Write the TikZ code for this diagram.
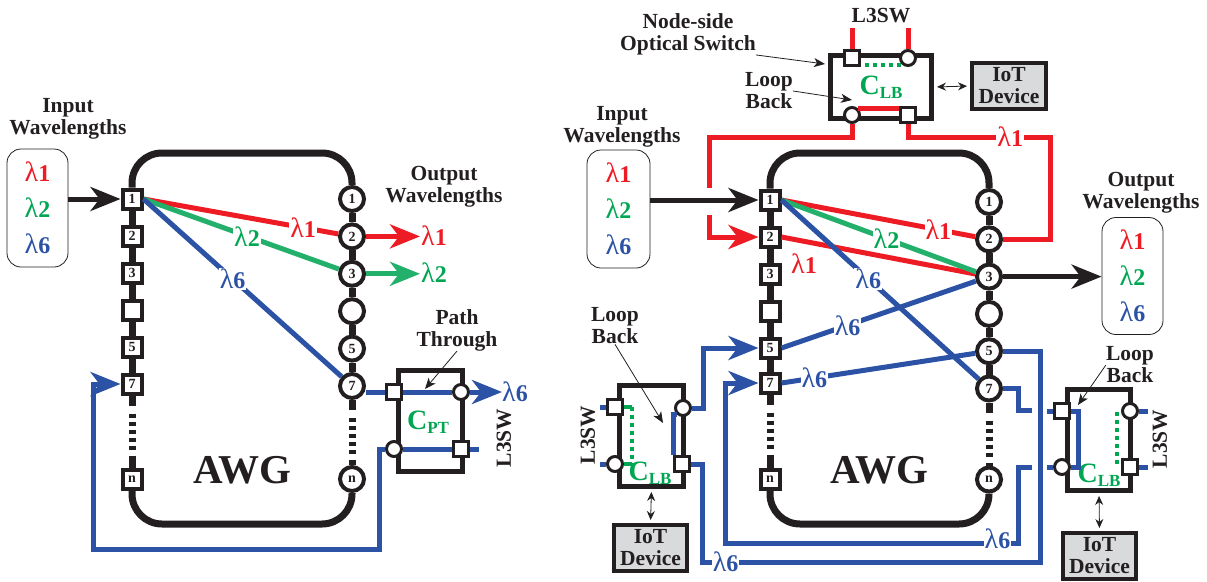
\documentclass[tikz,border=0pt]{standalone}
\usepackage{fontspec}
\setmainfont{Liberation Serif}
\usepackage{xcolor}
\usetikzlibrary{arrows.meta,positioning}

\definecolor{ink}{HTML}{231F20}
\definecolor{wlred}{HTML}{ED1C24}
\definecolor{wlgreen}{HTML}{00A651}
\definecolor{wireg}{HTML}{22B06A}
\definecolor{wlblue}{HTML}{2B52A4}
\definecolor{iotgray}{HTML}{D9DADB}

\newcommand{\wlen}[1]{{\fontsize{28}{28}\selectfont λ}\textbf{#1}}
\newcommand{\cname}[1]{C\raisebox{-4pt}{\fontsize{17}{17}\selectfont #1}}

\begin{document}
\begin{tikzpicture}[
    x=1pt, y=-1pt,
    node distance=14pt,
    inport/.style={draw=ink, fill=white, line width=4pt, minimum size=19pt, inner sep=0pt, text=ink, font=\fontsize{14}{14}\selectfont\bfseries},
    outport/.style={inport, circle, minimum size=24pt},
    swsq/.style={draw=ink, fill=white, line width=3pt, minimum size=15pt, inner sep=0pt},
    swci/.style={swsq, circle},
    swbox/.style={draw=ink, line width=5pt, minimum width=64pt, minimum height=101pt, inner sep=0pt},
    awg/.style={draw=ink, line width=7pt},
    awgdots/.style={awg, dash pattern=on 10pt off 8pt on 4pt off 4pt on 4pt off 4pt on 4pt off 4pt on 4pt off 4pt on 4pt off 6pt on 30pt off 30pt},
    iot/.style={draw=ink, fill=iotgray, line width=4pt, minimum width=73pt, minimum height=46pt, inner sep=0pt, align=center, text=ink, font=\fontsize{21.5}{22}\selectfont\bfseries},
    txt/.style={align=center, inner sep=0pt, text=ink, font=\fontsize{21.5}{22}\selectfont\bfseries},
    wlbox/.style={draw=ink, line width=.8pt, rounded corners=14pt, minimum width=61pt, inner sep=0pt, align=center, font=\fontsize{24}{36}\selectfont},
    lam/.style={fill=white, inner sep=1pt, font=\fontsize{24}{24}\selectfont},
    big/.style={inner sep=0pt, text=wlgreen, font=\fontsize{28}{28}\selectfont\bfseries},
    redw/.style={draw=wlred, line width=5pt},
    greenw/.style={draw=wireg, line width=5pt},
    bluew/.style={draw=wlblue, line width=5pt},
    greend/.style={draw=wlgreen, line width=4pt, dash pattern=on 4pt off 4pt},
    arrow/.style={-{Stealth[length=30pt,width=24pt,inset=9pt]}},
    note/.style={-{Stealth[length=11pt,width=9pt,inset=3pt]}, draw=ink, line width=.8pt},
    both/.style={{Stealth[length=9pt,width=8pt,inset=3pt]}-{Stealth[length=9pt,width=8pt,inset=3pt]}, draw=ink, line width=.8pt, shorten <=3pt, shorten >=3pt}
]
\useasboundingbox (0,0) rectangle (1207,581);

% left AWG
\coordinate (top) at (0,153);
\coordinate (bot) at (0,524);
\node[inport] (inA1) at (132,199) {1};
\node[inport, below=of inA1] (inA2) {2};
\node[inport, below=of inA2] (inA3) {3};
\node[inport, below=of inA3] (inA4) {};
\node[inport, below=of inA4] (inA5) {5};
\node[inport, below=of inA5] (inA7) {7};
\node[inport, below=72pt of inA7] (inAn) {n};
\node[outport] (outA1) at (352,199) {1};
\node[outport, below=9.4pt of outA1] (outA2) {2};
\node[outport, below=9.4pt of outA2] (outA3) {3};
\node[outport, below=9.4pt of outA3] (outA4) {};
\node[outport, below=9.4pt of outA4] (outA5) {5};
\node[outport, below=9.4pt of outA5] (outA7) {7};
\node[outport, below=65pt of outA7] (outAn) {n};
\draw[awg, rounded corners=30pt] (inA1.north) |- (top -| outA1) -- (outA1.north);
\draw[awg, rounded corners=30pt] (inAn.south) |- (bot -| outAn) -- (outAn.south);
\draw[awg] (inA1) -- (inA2);
\draw[awg] (inA2) -- (inA3);
\draw[awg] (inA3) -- (inA4);
\draw[awg] (inA4) -- (inA5);
\draw[awg] (inA5) -- (inA7);
\draw[awgdots] (inA7) -- (inAn);
\draw[awg] (outA1) -- (outA2);
\draw[awg] (outA2) -- (outA3);
\draw[awg] (outA3) -- (outA4);
\draw[awg] (outA4) -- (outA5);
\draw[awg] (outA5) -- (outA7);
\draw[awgdots] (outA7) -- (outAn);
\node[inner sep=0pt, text=ink, font=\fontsize{41}{41}\selectfont\bfseries] (awgA) at (242,470) {AWG};

\node[txt] (inLblA) at (68,119) {Input\\Wavelengths};
\node[wlbox, minimum height=118pt] (inBoxA) at (37.5,208) {\textcolor{wlred}{\wlen{1}}\\\textcolor{wlgreen}{\wlen{2}}\\\textcolor{wlblue}{\wlen{6}}};
\node[txt] (outLblA) at (444,187) {Output\\Wavelengths};
\node[lam, text=wlred] (oA1) at (434,236) {\wlen{1}};
\node[lam, text=wlgreen] (oA2) at (434,273) {\wlen{2}};

\draw[ink, line width=5pt, arrow] (inA1 -| inBoxA.east) -- (inA1);
\draw[redw] (inA1.east) -- node[lam, text=wlred, pos=.82] {\wlen{1}} (outA2);
\draw[greenw] (inA1.east) -- node[lam, text=wlgreen, pos=.53] {\wlen{2}} (outA3);
\draw[bluew] (inA1.east) -- node[lam, text=wlblue, pos=.45] {\wlen{6}} (outA7);
\draw[redw, arrow] (outA2) -- (outA2 -| oA1.west);
\draw[greenw, arrow] (outA3) -- (outA3 -| oA2.west);

% path through switch
\node[swbox] (cptBox) at (430.5,421) {};
\node[swsq] (cptA) at (394,392) {};
\node[swci] (cptB) at (461,392) {};
\node[swci] (cptC) at (394,449) {};
\node[swsq] (cptD) at (461,449) {};
\node[big] (cptLbl) at (428,422) {\cname{PT}};
\node[txt] (pathLbl) at (457,330) {Path\\Through};
\node[txt, rotate=90] (l3A) at (504,438) {L3SW};
\node[lam, text=wlblue, inner sep=0pt] (oA6) at (515,392) {\wlen{6}};
\coordinate (pathTip) at (425,389);
\coordinate (cptStub) at (479,449);
\coordinate (loopA) at (379,549);
\coordinate (loopB) at (93,549);
\draw[bluew] (cptA) -- (cptA -| outA7.east);
\draw[bluew] (cptA) -- (cptB);
\draw[bluew, arrow] (cptB) -- (oA6);
\draw[bluew] (cptC) -- (cptD);
\draw[bluew] (cptD) -- (cptStub);
\draw[bluew, arrow] (cptC) -| (loopA) -- (loopB) |- (inA7);
\draw[note] (pathLbl.south) -- (pathTip);

% right AWG
\node[inport] (inB1) at (770,200) {1};
\node[inport, below=of inB1] (inB2) {2};
\node[inport, below=of inB2] (inB3) {3};
\node[inport, below=of inB3] (inB4) {};
\node[inport, below=of inB4] (inB5) {5};
\node[inport, below=12pt of inB5] (inB7) {7};
\node[inport, below=73pt of inB7] (inBn) {n};
\node[outport] (outB1) at (989,202) {1};
\node[outport, below=9.3pt of outB1] (outB2) {2};
\node[outport, below=9.3pt of outB2] (outB3) {3};
\node[outport, below=9.3pt of outB3] (outB4) {};
\node[outport, below=9.3pt of outB4] (outB5) {5};
\node[outport, below=9.3pt of outB5] (outB7) {7};
\node[outport, below=63pt of outB7] (outBn) {n};
\draw[awg, rounded corners=30pt] (inB1.north) |- (top -| outB1) -- (outB1.north);
\draw[awg, rounded corners=30pt] (inBn.south) |- (bot -| outBn) -- (outBn.south);
\draw[awg] (inB1) -- (inB2);
\draw[awg] (inB2) -- (inB3);
\draw[awg] (inB3) -- (inB4);
\draw[awg] (inB4) -- (inB5);
\draw[awg] (inB5) -- (inB7);
\draw[awgdots] (inB7) -- (inBn);
\draw[awg] (outB1) -- (outB2);
\draw[awg] (outB2) -- (outB3);
\draw[awg] (outB3) -- (outB4);
\draw[awg] (outB4) -- (outB5);
\draw[awg] (outB5) -- (outB7);
\draw[awgdots] (outB7) -- (outBn);
\node[inner sep=0pt, text=ink, font=\fontsize{41}{41}\selectfont\bfseries] (awgB) at (879,470) {AWG};

\node[txt] (inLblB) at (622,127) {Input\\Wavelengths};
\node[wlbox, minimum height=118pt, minimum width=63pt] (inBoxB) at (618.5,209) {\textcolor{wlred}{\wlen{1}}\\\textcolor{wlgreen}{\wlen{2}}\\\textcolor{wlblue}{\wlen{6}}};
\node[txt] (outLblB) at (1141,193) {Output\\Wavelengths};
\node[wlbox, minimum height=117pt] (outBoxB) at (1132.5,276) {\textcolor{wlred}{\wlen{1}}\\\textcolor{wlgreen}{\wlen{2}}\\\textcolor{wlblue}{\wlen{6}}};

\draw[ink, line width=5pt, arrow] (inB1 -| inBoxB.east) -- (inB1);
\draw[ink, line width=5pt, arrow] (outB3) -- (outB3 -| outBoxB.west);
\draw[redw] (inB2.east) -- (outB3);
\draw[redw] (inB1.east) -- node[lam, text=wlred, pos=.81] {\wlen{1}} (outB2);
\draw[greenw] (inB1.east) -- node[lam, text=wlgreen, pos=.54] {\wlen{2}} (outB3);
\draw[bluew] (inB1.east) -- node[lam, text=wlblue, pos=.44] {\wlen{6}} (outB7);
\draw[bluew] (inB5.east) -- node[lam, text=wlblue, pos=.34] {\wlen{6}} (outB3);
\draw[bluew] (inB7.east) -- node[lam, text=wlblue, pos=.17] {\wlen{6}} (outB5);
\node[lam, text=wlred, fill=none] (l2Lbl) at (804,264) {\wlen{1}};

% top switch
\node[swbox, minimum width=101pt, minimum height=63pt] (topBox) at (881,87) {};
\node[swsq] (topA) at (852,58) {};
\node[swci] (topB) at (908,58) {};
\node[swci] (topC) at (852,115) {};
\node[swsq] (topD) at (908,115) {};
\node[big] (topLbl) at (881,87) {\cname{LB}};
\node[txt] (l3Top) at (881,16) {L3SW};
\node[txt] (nodeLbl) at (688,34) {Node-side\\Optical Switch};
\node[txt] (loopT) at (769,91) {Loop\\Back};
\node[iot, minimum width=74pt] (iotT) at (1009,86) {IoT\\Device};
\coordinate (topAu) at (852,28);
\coordinate (topBu) at (908,28);
\coordinate (dotA) at (865,65);
\coordinate (dotB) at (904,65);
\coordinate (nodeTip) at (825,64);
\coordinate (loopTip) at (852,100);
\coordinate (redL) at (709,137);
\coordinate (redR) at (1050,137);
\coordinate (gapU) at (709,188);
\coordinate (gapD) at (709,215);
\draw[redw] (topA) -- (topAu);
\draw[redw] (topB) -- (topBu);
\draw[greend] (dotA) -- (dotB);
\draw[redw] (topC.north east) -- (topC.north east -| topD.west);
\draw[redw] (topC) |- (redL) -- (gapU);
\draw[redw, arrow] (gapD) |- (inB2);
\draw[redw] (topD) |- node[lam, text=wlred, pos=.86] {\wlen{1}} (redR) |- (outB2);
\draw[note] (nodeLbl.south east) -- (nodeTip);
\draw[note] (loopT.east) -- (loopTip);
\draw[both] (topBox.east) -- (iotT.west);

% left loop back switch
\node[swbox] (swBox) at (651.5,436) {};
\node[swsq] (swA) at (615,407) {};
\node[swci] (swB) at (683,408) {};
\node[swci] (swC) at (615,464) {};
\node[swsq] (swD) at (682,464) {};
\node[big] (swLbl) at (650,473) {\cname{LB}};
\node[txt, rotate=90] (l3L) at (588,435) {L3SW};
\node[txt] (loopL) at (615,326) {Loop\\Back};
\node[iot] (iotL) at (650.5,548) {IoT\\Device};
\coordinate (swAw) at (600,407);
\coordinate (swCw) at (600,464);
\coordinate (greenT) at (632,407);
\coordinate (greenB) at (632,464);
\coordinate (loopLTip) at (663,423);
\coordinate (riseL) at (703,348);
\coordinate (busIn) at (702,562);
\coordinate (busOut) at (1040,562);
\draw[bluew] (swA) -- (swAw);
\draw[bluew] (swC) -- (swCw);
\draw[wlgreen, line width=4pt] (swA) -- (greenT);
\draw[wlgreen, line width=4pt] (swC) -- (greenB);
\draw[greend] (greenT) -- (greenB);
\draw[bluew] (swD.north west) |- (swB.south west);
\draw[bluew, arrow] (swB) -| (riseL) -- (inB5);
\draw[bluew] (swD) -| (busIn) -- node[lam, text=wlblue, pos=.07] {\wlen{6}} (busOut) |- (outB5);
\draw[note] (loopL.south) -- (loopLTip);
\draw[both] (swBox.south) -- (iotL.north);

% right loop back switch
\node[swbox, minimum width=63pt] (srBox) at (1099,440) {};
\node[swsq] (srA) at (1062,411) {};
\node[swci] (srB) at (1130,411) {};
\node[swci] (srC) at (1062,467) {};
\node[swsq] (srD) at (1130,467) {};
\node[big] (srLbl) at (1099,475) {\cname{LB}};
\node[txt, rotate=90] (l3R) at (1160,439) {L3SW};
\node[txt] (loopR) at (1130,365) {Loop\\Back};
\node[iot] (iotR) at (1099.5,556) {IoT\\Device};
\coordinate (srAw) at (1047,411);
\coordinate (srCw) at (1047,467);
\coordinate (srBe) at (1148,411);
\coordinate (srDe) at (1148,467);
\coordinate (srLoop) at (1078,440);
\coordinate (dotT) at (1117,412);
\coordinate (dotM) at (1117,466);
\coordinate (loopRTip) at (1078,405);
\coordinate (dropR) at (1018,410);
\coordinate (gapA) at (1032,410);
\coordinate (gapB) at (1032,467);
\coordinate (innerR) at (1018,543);
\coordinate (innerL) at (725,543);
\draw[bluew] (srA) -- (srAw);
\draw[bluew] (srC) -- (srCw);
\draw[bluew] (srB) -- (srBe);
\draw[bluew] (srD) -- (srDe);
\draw[bluew] (srA) -| (srLoop) |- (srC);
\draw[greend] (dotT) -- (dotM);
\draw[bluew] (outB7) -| (dropR) -- (gapA);
\draw[bluew, arrow] (gapB) -| (innerR) -- node[lam, text=wlblue, pos=.07, yshift=4pt] {\wlen{6}} (innerL) |- (inB7);
\draw[note] (loopR.west) -- (loopRTip);
\draw[both] (srBox.south) -- (iotR.north);
\end{tikzpicture}
\end{document}
